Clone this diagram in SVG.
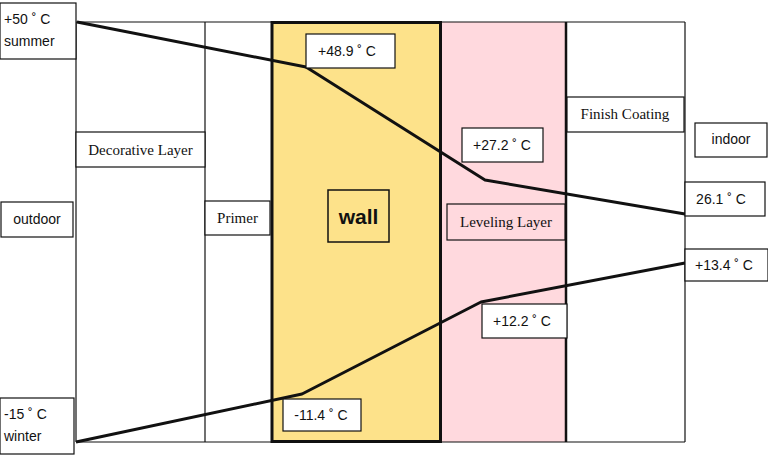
<svg xmlns="http://www.w3.org/2000/svg" width="768" height="458" viewBox="0 0 768 458">
<style>
.frame{fill:none;stroke:#111;stroke-width:1.2}
.box{fill:#fff;stroke:#111;stroke-width:1.2}
.pbox{fill:#FFD9DE;stroke:#111;stroke-width:1.2}
.serif{font-family:"Liberation Serif","DejaVu Serif",serif;font-size:15px;fill:#111}
.sans{font-family:"Liberation Sans",Arial,sans-serif;font-size:14px;fill:#111}
.bold{font-family:"Liberation Sans",Arial,sans-serif;font-size:21px;font-weight:bold;fill:#111}
.conn{fill:none;stroke:#111;stroke-width:3;stroke-linejoin:round}
</style>
<rect width="768" height="458" fill="#fff"/>
<g id="layers">
  <rect x="441" y="22" width="125" height="420" fill="#FFD9DE"/>
  <rect x="272" y="22.5" width="168.5" height="419" fill="#FDE28A" stroke="#111" stroke-width="3"/>
  <line class="frame" x1="76" y1="22" x2="685" y2="22"/>
  <line class="frame" x1="76" y1="442" x2="685" y2="442"/>
  <line class="frame" x1="76" y1="22" x2="76" y2="442"/>
  <line class="frame" x1="205" y1="22" x2="205" y2="442"/>
  <line x1="566" y1="22" x2="566" y2="442" stroke="#111" stroke-width="2.5"/>
  <line class="frame" x1="685" y1="22" x2="685" y2="442"/>
</g>
<g id="connectors">
  <polyline class="conn" points="77,22 306,67 485,180 685,214"/>
  <polyline class="conn" points="76,442 302,394 481,302 685,263"/>
</g>
<g id="summer">
  <rect class="box" x="0" y="3" width="76" height="56"/>
  <text class="sans" x="4" y="24">+50 ˚ C</text>
  <text class="sans" x="4" y="46">summer</text>
</g>
<g id="winter">
  <rect class="box" x="0" y="398" width="74" height="56"/>
  <text class="sans" x="4" y="419">-15 ˚ C</text>
  <text class="sans" x="4" y="441">winter</text>
</g>
<g id="outdoor">
  <rect class="box" x="1" y="202" width="72" height="35"/>
  <text class="sans" x="37" y="224" text-anchor="middle">outdoor</text>
</g>
<g id="decorative">
  <rect class="box" x="76" y="132" width="129" height="35"/>
  <text class="serif" x="140.5" y="155" text-anchor="middle">Decorative Layer</text>
</g>
<g id="primer">
  <rect class="box" x="205" y="201" width="65" height="34"/>
  <text class="serif" x="237.5" y="223" text-anchor="middle">Primer</text>
</g>
<g id="wall">
  <rect x="328" y="190" width="61" height="52" fill="none" stroke="#111" stroke-width="1.5"/>
  <text class="bold" x="358.5" y="224" text-anchor="middle">wall</text>
</g>
<g id="t489">
  <rect class="box" x="306" y="34" width="89" height="34"/>
  <text class="sans" x="347" y="56" text-anchor="middle">+48.9 ˚ C</text>
</g>
<g id="t272">
  <rect class="box" x="462" y="128" width="81" height="34"/>
  <text class="sans" x="502" y="150" text-anchor="middle">+27.2 ˚ C</text>
</g>
<g id="leveling">
  <rect class="pbox" x="447" y="204" width="118" height="36"/>
  <text class="serif" x="506" y="227" text-anchor="middle">Leveling Layer</text>
</g>
<g id="finish">
  <rect class="box" x="567" y="97" width="117" height="35"/>
  <text class="serif" x="625" y="119" text-anchor="middle">Finish Coating</text>
</g>
<g id="indoor">
  <rect class="box" x="695" y="123" width="72" height="34"/>
  <text class="sans" x="731" y="144" text-anchor="middle">indoor</text>
</g>
<g id="t261">
  <rect class="box" x="685" y="182" width="80" height="34"/>
  <text class="sans" x="721" y="204" text-anchor="middle">26.1 ˚ C</text>
</g>
<g id="t134">
  <rect class="box" x="685" y="249" width="83" height="32"/>
  <text class="sans" x="724" y="270" text-anchor="middle">+13.4 ˚ C</text>
</g>
<g id="t122">
  <rect class="box" x="482" y="304" width="85" height="34"/>
  <text class="sans" x="522" y="326" text-anchor="middle">+12.2 ˚ C</text>
</g>
<g id="t114">
  <rect class="box" x="283" y="399" width="78" height="32"/>
  <text class="sans" x="321" y="420" text-anchor="middle">-11.4 ˚ C</text>
</g>
</svg>
